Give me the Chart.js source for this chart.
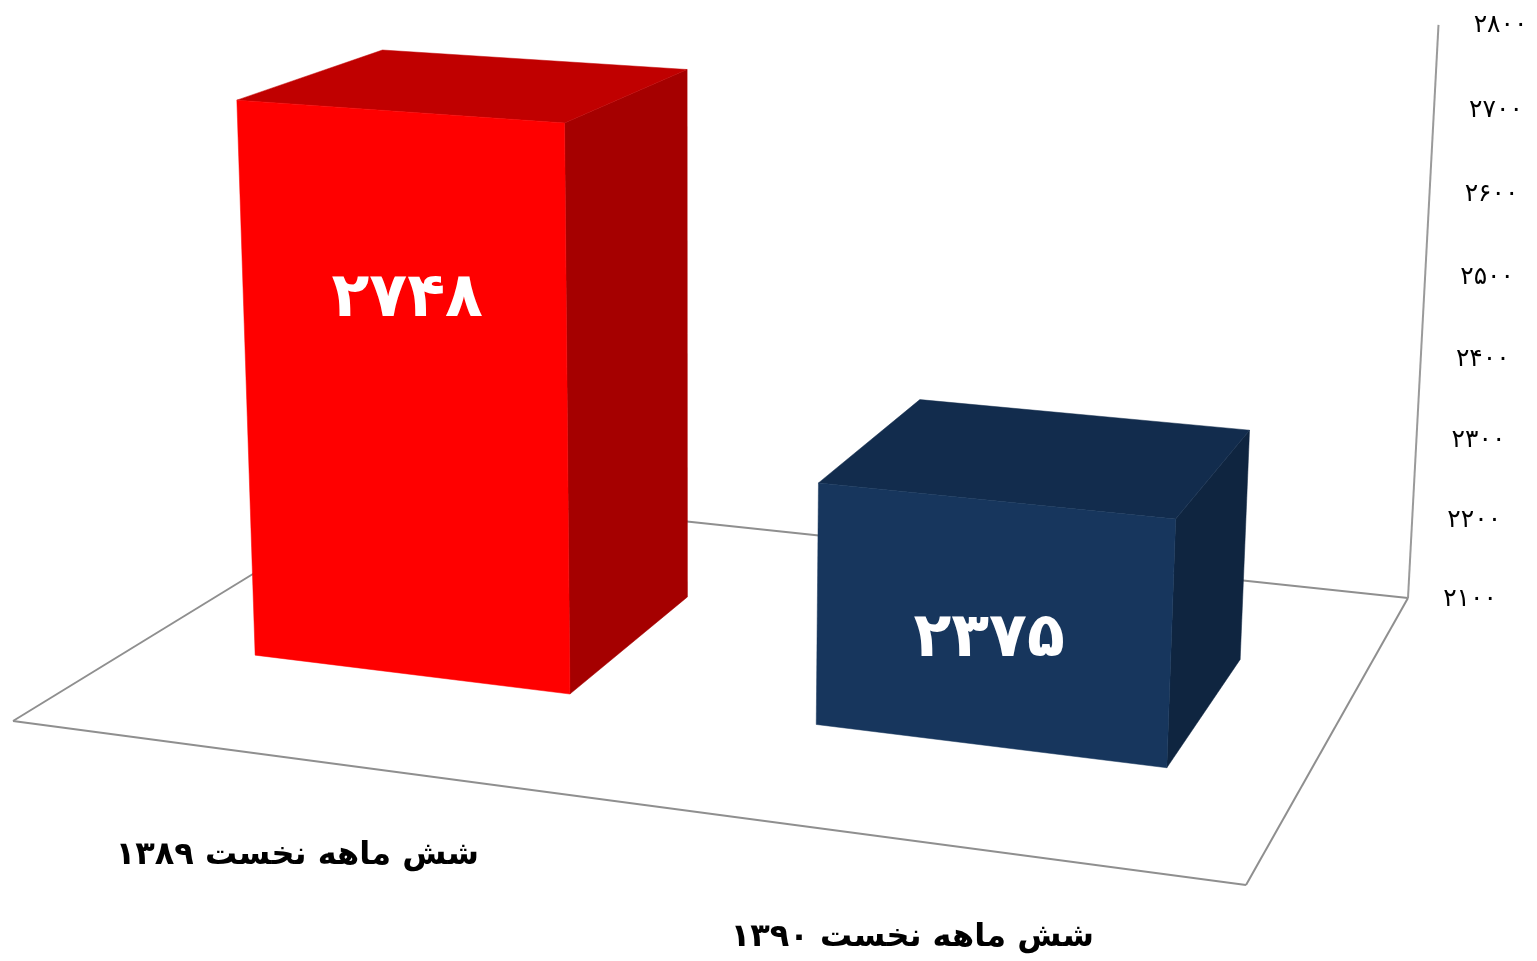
<!DOCTYPE html>
<html>
<head>
<meta charset="utf-8">
<style>
    html, body { margin: 0; padding: 0; background: #fff; }
    canvas { display: block; }
</style>
<script src="https://cdn.jsdelivr.net/npm/chart.js@4"></script>
</head>
<body>
<canvas id="myChart" width="1537" height="961"></canvas>
<script>
const categories = ['شش ماهه نخست ۱۳۸۹', 'شش ماهه نخست ۱۳۹۰'];
const values = [2748, 2375];
const axisMin = 2100;
const axisMax = 2800;
const axisStep = 100;

const frontColors = ['#ff0000', '#17365d'];
const topColors = ['#c00000', '#122c4d'];
const sideColors = ['#a50000', '#0f2540'];

// floor corners of the box on screen, and where the verticals meet
const floor = { fl: [13, 721], fr: [1246, 885], br: [1408, 598], bl: [390, 490] };
const vanish = [695, 14000];
const topY = 29;
const axisStretch = 1.007;
const depthFront = 0.30;
const depthBack = 0.69;
const labelHeight = [0.675, 0.435];
const labelShift = [5, -2];
const fontName = '"DejaVu Sans"';

function toPersian(n) {
    return String(n).replace(/\d/g, (d) => '۰۱۲۳۴۵۶۷۸۹'[d]);
}

function buildProjection() {
    const { fl, fr, br, bl } = floor;
    const dx1 = fr[0] - br[0], dx2 = bl[0] - br[0], sx = fl[0] - fr[0] + br[0] - bl[0];
    const dy1 = fr[1] - br[1], dy2 = bl[1] - br[1], sy = fl[1] - fr[1] + br[1] - bl[1];
    const den = dx1 * dy2 - dx2 * dy1;
    const g = (sx * dy2 - dx2 * sy) / den;
    const h = (dx1 * sy - sx * dy1) / den;
    const a = fr[0] - fl[0] + g * fr[0];
    const b = bl[0] - fl[0] + h * bl[0];
    const d = fr[1] - fl[1] + g * fr[1];
    const e = bl[1] - fl[1] + h * bl[1];
    const py = d + e + fl[1];
    const pw = g + h + 1;
    const lambda = (topY * pw - py) / (vanish[1] - topY);
    return (u, v, w) => {
        const q = g * u + h * w + 1 + v * lambda;
        return [
            (a * u + b * w + fl[0] + v * lambda * vanish[0]) / q,
            (d * u + e * w + fl[1] + v * lambda * vanish[1]) / q
        ];
    };
}

const project = buildProjection();

function fillFace(ctx, points, color) {
    ctx.beginPath();
    points.forEach((p, i) => i ? ctx.lineTo(p[0], p[1]) : ctx.moveTo(p[0], p[1]));
    ctx.closePath();
    ctx.fillStyle = color;
    ctx.strokeStyle = color;
    ctx.lineWidth = 0.5;
    ctx.fill();
    ctx.stroke();
}

function strokeLine(ctx, p0, p1, color, width) {
    ctx.beginPath();
    ctx.moveTo(p0[0], p0[1]);
    ctx.lineTo(p1[0], p1[1]);
    ctx.strokeStyle = color;
    ctx.lineWidth = width;
    ctx.stroke();
}

function drawText(ctx, text, x, y, font, color, spacing, rtl) {
    ctx.save();
    ctx.font = font;
    ctx.fillStyle = color;
    ctx.textAlign = 'center';
    ctx.textBaseline = 'middle';
    ctx.direction = rtl ? 'rtl' : 'ltr';
    ctx.letterSpacing = spacing;
    ctx.fillText(text, x, y);
    ctx.restore();
}

// height of a value on the axis, 0 at the floor and 1 at the top tick
function heightOf(yAxis, pixel) {
    const base = yAxis.getPixelForValue(axisMin);
    return (base - pixel) / (base - yAxis.getPixelForValue(axisMax));
}

// the bars and the axes stay in Chart.js, this only bends them into the 3d box
const box3d = {
    id: 'box3d',
    beforeDatasetsDraw(chart) {
        const { ctx, scales } = chart;
        const yAxis = scales.y;
        const lineColor = '#8f8f8f';
        ctx.save();
        ctx.lineJoin = 'round';
        strokeLine(ctx, project(0, 0, 0), project(1, 0, 0), lineColor, 2);
        strokeLine(ctx, project(1, 0, 0), project(1, 0, 1), lineColor, 2);
        strokeLine(ctx, project(1, 0, 1), project(0, 0, 1), lineColor, 2);
        strokeLine(ctx, project(0, 0, 1), project(0, 0, 0), lineColor, 2);
        strokeLine(ctx, project(1, 0, 1), project(1, axisStretch, 1), '#9a9a9a', 2);
        ctx.restore();
        yAxis.ticks.forEach((tick) => {
            const v = heightOf(yAxis, yAxis.getPixelForValue(tick.value)) * axisStretch;
            const p = project(1, v, 1);
            drawText(ctx, tick.label, p[0] + 62, p[1] + 1, '25px ' + fontName, '#000', '7px', false);
        });
    },
    beforeDatasetDraw(chart, args) {
        const { ctx, chartArea, scales } = chart;
        args.meta.data.forEach((bar, i) => {
            const u0 = (bar.x - bar.width / 2 - chartArea.left) / chartArea.width;
            const u1 = (bar.x + bar.width / 2 - chartArea.left) / chartArea.width;
            const v = heightOf(scales.y, bar.y);
            fillFace(ctx, [project(u1, 0, depthFront), project(u1, v, depthFront), project(u1, v, depthBack), project(u1, 0, depthBack)], sideColors[i]);
            fillFace(ctx, [project(u0, v, depthFront), project(u1, v, depthFront), project(u1, v, depthBack), project(u0, v, depthBack)], topColors[i]);
            fillFace(ctx, [project(u0, 0, depthFront), project(u1, 0, depthFront), project(u1, v, depthFront), project(u0, v, depthFront)], frontColors[i]);
        });
        return false;
    },
    afterDatasetsDraw(chart) {
        const { ctx, chartArea, scales } = chart;
        const xAxis = scales.x;
        const meta = chart.getDatasetMeta(0);
        meta.data.forEach((bar, i) => {
            const u = (bar.x - chartArea.left) / chartArea.width;
            const v = heightOf(scales.y, bar.y) * labelHeight[i];
            const p = project(u, v, depthFront);
            drawText(ctx, toPersian(values[i]), p[0] + labelShift[i], p[1], 'bold 62px ' + fontName, '#fff', '7px', false);
        });
        xAxis.ticks.forEach((tick, i) => {
            const u = (xAxis.getPixelForTick(i) - chartArea.left) / chartArea.width;
            const p = project(u, 0, 0);
            drawText(ctx, categories[i], p[0] + 2, p[1] + 97, 'bold 32px ' + fontName, '#000', '0px', true);
        });
    }
};

new Chart(document.getElementById('myChart'), {
    type: 'bar',
    data: {
        labels: categories,
        datasets: [{ data: values, backgroundColor: frontColors }]
    },
    options: {
        responsive: false,
        animation: false,
        layout: { padding: 0 },
        barPercentage: 0.574,
        categoryPercentage: 1,
        plugins: {
            legend: { display: false },
            tooltip: { enabled: false }
        },
        scales: {
            x: { display: false },
            y: {
                display: false,
                min: axisMin,
                max: axisMax,
                ticks: { stepSize: axisStep, callback: (val) => toPersian(val) }
            }
        }
    },
    plugins: [box3d]
});
</script>
</body>
</html>
